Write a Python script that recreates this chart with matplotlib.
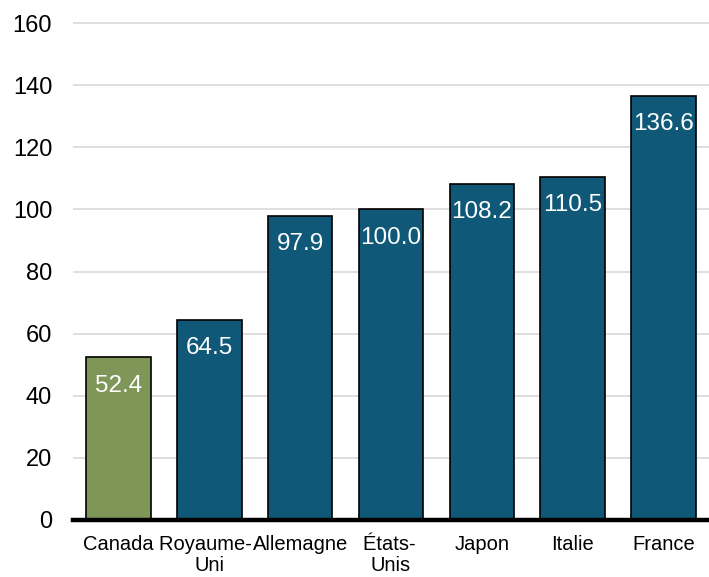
import matplotlib.pyplot as plt

plt.rcParams['font.family'] = ['Liberation Sans', 'DejaVu Sans']

countries = ["Canada", "Royaume-\u2009\u2009\nUni", "Allemagne", "États-\u2009\nUnis", "Japon", "Italie", "France"]
values = [52.4, 64.5, 97.9, 100.0, 108.2, 110.5, 136.6]
bar_colors = ["#7f9659", "#0f5878", "#0f5878", "#0f5878", "#0f5878", "#0f5878", "#0f5878"]
yticks = [0, 20, 40, 60, 80, 100, 120, 140, 160]


def main():
    fig = plt.figure(figsize=(7.09, 5.77), dpi=100)
    ax = fig.add_axes([0.103, 0.0988, 0.897, 0.872])

    x = range(len(countries))
    bars = ax.bar(x, values, width=0.71, color=bar_colors, edgecolor="black", linewidth=1.2, zorder=3)

    for b, v in zip(bars, values):
        ax.annotate(f"{v:.1f}", (b.get_x() + b.get_width() / 2, v), xytext=(0, -12.5),
                    textcoords="offset points", ha="center", va="top",
                    color="white", fontsize=17.5, zorder=4)

    ax.set_xlim(-0.5, 6.5)
    ax.set_ylim(0, 162)
    ax.set_yticks(yticks)
    ax.set_xticks(list(x))
    ax.set_xticklabels(countries, fontsize=14.5, linespacing=1.12)
    ax.tick_params(axis="y", length=0, pad=15, labelsize=17)
    ax.tick_params(axis="x", length=0, pad=11)

    ax.grid(axis="y", color="#d9d9d9", linewidth=1.2, zorder=0)
    for s in ["left", "right", "top"]:
        ax.spines[s].set_visible(False)
    ax.spines["bottom"].set_linewidth(3.2)
    ax.spines["bottom"].set_zorder(5)

    fig.savefig("out.png", dpi=100)


if __name__ == "__main__":
    main()
